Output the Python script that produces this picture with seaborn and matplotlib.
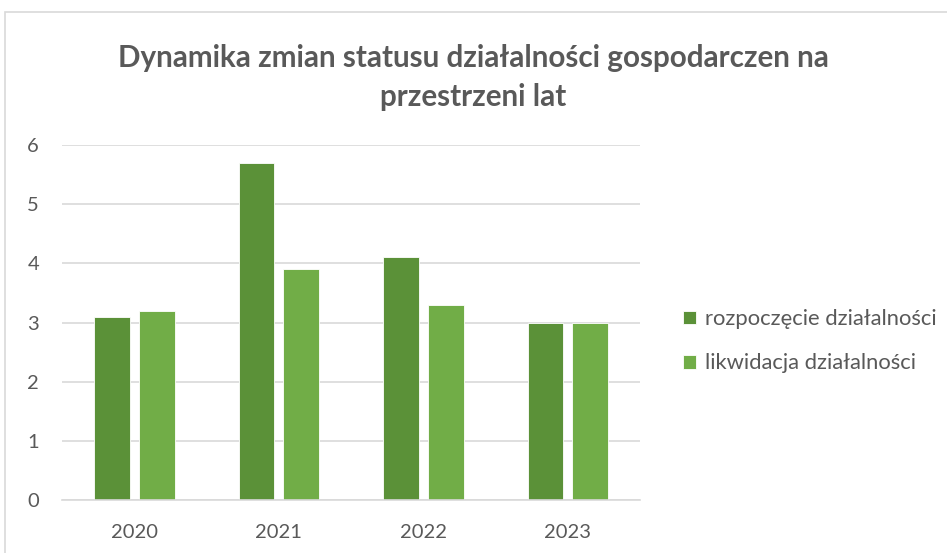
import pandas as pd
import matplotlib.pyplot as plt
import matplotlib.patches as mpatches
import seaborn as sns

years = ['2020', '2021', '2022', '2023']
rozpoczecie = [3.1, 5.7, 4.1, 3.0]
likwidacja = [3.2, 3.9, 3.3, 3.0]
series_names = ['rozpoczęcie działalności', 'likwidacja działalności']

df = pd.DataFrame({
    'Rok': years * 2,
    'Wartość': rozpoczecie + likwidacja,
    'Seria': [series_names[0]] * len(years) + [series_names[1]] * len(years),
})

sns.set_theme(style='white')
plt.rcParams['font.family'] = ['Lato', 'DejaVu Sans']

grey = '#595959'
fig = plt.figure(figsize=(9.47, 5.53), dpi=100)
ax = fig.add_axes([0.0655, 0.0958, 0.6105, 0.642])

sns.barplot(data=df, x='Rok', y='Wartość', hue='Seria',
            palette=['#5B9138', '#71AD47'], saturation=1, width=0.62, gap=0.2,
            edgecolor='white', linewidth=0.6, ax=ax)

ax.set_ylim(0, 6)
ax.set_yticks(range(0, 7))
ax.yaxis.grid(True, color='#D9D9D9', linewidth=1.2)
ax.set_axisbelow(True)
for s in ['top', 'right', 'left']:
    ax.spines[s].set_visible(False)
ax.spines['bottom'].set_color('#D9D9D9')
ax.spines['bottom'].set_linewidth(1.2)
ax.set_xlabel('')
ax.set_ylabel('')
ax.tick_params(axis='both', colors=grey, labelsize=14.5, length=0)
ax.tick_params(axis='x', pad=17)
ax.tick_params(axis='y', pad=25)
for lbl in ax.get_yticklabels():
    lbl.set_horizontalalignment('left')

fig.text(0.5, 0.895, 'Dynamika zmian statusu działalności gospodarczen na',
         ha='center', va='center', fontsize=21.3, fontweight='bold', color=grey)
fig.text(0.5, 0.825, 'przestrzeni lat',
         ha='center', va='center', fontsize=21.3, fontweight='bold', color=grey)

leg = ax.legend(loc='center left', bbox_to_anchor=(1.04, 0.447), frameon=False,
                fontsize=15.8, handlelength=0.6, handleheight=0.6,
                handletextpad=0.4, labelspacing=1.1, labelcolor=grey)

# chart frame
fig.patches.append(mpatches.Rectangle((5 / 947, -0.1), 1.1, (553 - 12) / 553 + 0.1,
                                      transform=fig.transFigure, fill=False,
                                      edgecolor='#D9D9D9', linewidth=1.2))

fig.savefig('out.png', dpi=100)
